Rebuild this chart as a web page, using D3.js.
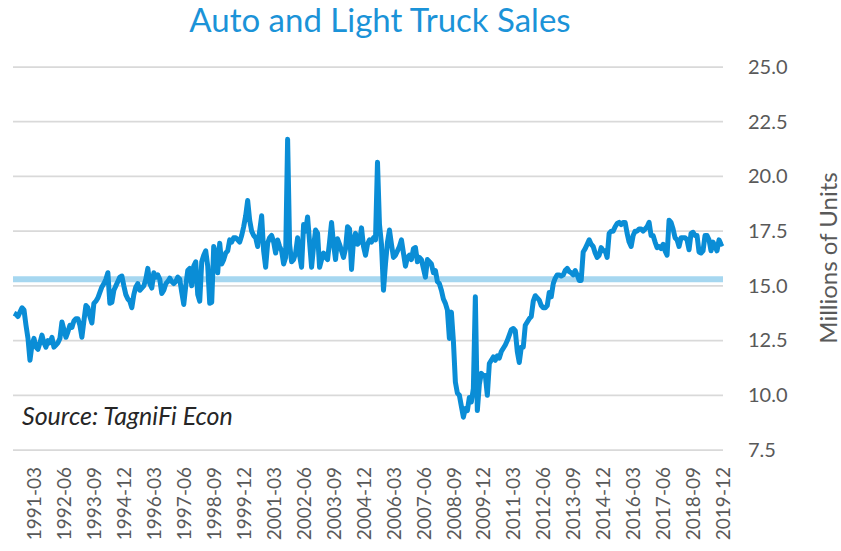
<!DOCTYPE html>
<html>
<head>
<meta charset="utf-8">
<script src="https://cdn.jsdelivr.net/npm/d3@7"></script>
<style>
	body { margin: 0; background: #fff; }
	text { font-family: Lato, "Open Sans", sans-serif; }
</style>
</head>
<body>
<div id="sales-chart"></div>
<script>

// Monthly sales, millions of units (SAAR), May 1990 - Dec 2019
var startMonth = "1990-05";
var endMonth = "2019-12";
var sales = [
	13.75, 13.7, 13.6, 13.8, 14.0, 13.9, 13.2, 12.6,
	11.6, 12.3, 12.6, 12.2, 12.1, 12.4, 12.75, 12.4, 12.2, 12.5, 12.4, 12.65,
	12.2, 12.3, 12.4, 12.6, 13.35, 13.0, 12.65, 12.9, 13.2, 13.1, 13.4, 13.5,
	13.5, 13.2, 12.65, 13.4, 14.1, 14.0, 13.6, 13.3, 14.2, 14.3, 14.45, 14.7,
	14.95, 15.1, 15.3, 15.6, 14.2, 14.25, 14.8, 15.0, 15.2, 15.4, 15.45, 15.0,
	14.6, 14.4, 14.3, 14.0, 14.6, 14.95, 15.1, 14.8, 14.9, 15.0, 15.3, 15.8,
	15.1, 14.9, 15.6, 15.4, 15.5, 15.3, 14.65, 14.8, 15.1, 15.2, 15.35, 15.2,
	15.1, 15.2, 15.4, 15.3, 14.7, 14.15, 15.0, 15.7, 15.8, 15.0, 15.9, 16.1,
	14.6, 14.3, 16.1, 16.4, 16.6, 15.9, 14.2, 14.25, 16.8, 16.5, 15.6, 16.95,
	16.0, 16.2, 16.5, 16.6, 17.1, 17.0, 17.2, 17.2, 17.1, 17.0, 17.3, 17.7,
	18.2, 18.9, 18.0, 17.5, 17.3, 17.2, 16.8, 17.5, 18.2, 16.6, 15.85, 16.95,
	17.2, 17.3, 17.0, 16.5, 17.1, 16.8, 16.6, 16.0, 16.3, 21.7, 16.9, 16.1,
	16.2, 16.5, 17.2, 16.4, 15.85, 17.8, 17.5, 18.15, 17.0, 15.85, 16.8, 17.55,
	17.4, 15.85, 16.2, 16.5, 16.3, 16.2, 17.0, 17.9, 16.9, 16.2, 17.15, 16.9,
	16.6, 16.3, 16.7, 17.7, 17.6, 15.75, 17.1, 17.4, 16.9, 17.0, 17.65, 16.8,
	16.4, 16.9, 17.1, 17.0, 17.2, 17.1, 20.65, 17.8, 16.9, 14.8, 16.0, 17.0,
	17.55, 16.9, 16.3, 16.4, 16.6, 16.8, 17.1, 16.5, 15.9, 16.3, 16.4, 16.2,
	16.7, 16.75, 16.1, 16.3, 16.2, 15.8, 15.4, 16.2, 16.1, 16.0, 15.6, 15.7,
	15.2, 15.1, 14.8, 14.4, 14.2, 13.9, 12.6, 13.8, 12.5, 10.6, 10.1, 10.0,
	9.5, 9.0, 9.4, 9.3, 9.9, 9.7, 10.3, 14.5, 9.3, 10.5, 11.0, 10.9,
	10.9, 10.0, 11.45, 11.6, 11.75, 11.6, 11.8, 11.7, 12.0, 12.15, 12.3, 12.5,
	12.75, 13.0, 13.05, 12.95, 12.0, 11.5, 12.2, 12.2, 13.2, 13.35, 13.5, 13.6,
	14.3, 14.55, 14.45, 14.35, 14.1, 14.0, 14.0, 14.1, 14.7, 14.5, 15.1, 15.35,
	15.5, 15.5, 15.45, 15.5, 15.7, 15.8, 15.65, 15.6, 15.5, 15.7, 15.5, 15.25,
	15.25, 16.55, 16.7, 16.9, 17.1, 16.9, 16.8, 16.5, 16.3, 16.4, 16.75, 16.6,
	16.6, 16.3, 17.4, 17.5, 17.5, 17.7, 17.85, 17.9, 17.8, 17.9, 17.9, 17.4,
	17.0, 16.8, 17.3, 17.5, 17.5, 17.6, 17.6, 17.5, 17.6, 17.7, 17.9, 17.3,
	17.3, 17.0, 16.75, 16.8, 16.7, 16.9, 16.6, 16.4, 18.0, 17.9, 17.6, 17.2,
	17.1, 16.8, 17.2, 17.2, 17.2, 17.1, 16.65, 17.4, 17.45, 17.3, 17.3, 16.55,
	16.5, 16.6, 17.3, 17.3, 17.1, 16.6, 17.0, 16.8, 16.6, 17.1, 16.9, 16.95
];

// Long-run average band
var avgSales = 15.3;

// Axis ticks
var yTicks = [7.5, 10.0, 12.5, 15.0, 17.5, 20.0, 22.5, 25.0];
var xTickLabels = ["1991-03","1992-06","1993-09","1994-12","1996-03","1997-06","1998-09","1999-12",
	"2001-03","2002-06","2003-09","2004-12","2006-03","2007-06","2008-09","2009-12",
	"2011-03","2012-06","2013-09","2014-12","2016-03","2017-06","2018-09","2019-12"];

var parseMonth = d3.timeParse("%Y-%m"),
	fmtMonth = d3.timeFormat("%Y-%m");

var months = d3.timeMonth.range(parseMonth(startMonth), d3.timeMonth.offset(parseMonth(endMonth), 1))
	.map(fmtMonth);

var data = months.map(function(m, i) { return {month: m, value: sales[i]}; });

var width = 841, height = 551,
	margin = {top: 67, right: 118, bottom: 101, left: 14};

var xScale = d3.scalePoint()
	.domain(months)
	.range([margin.left, width - margin.right]);

var yScale = d3.scaleLinear()
	.domain([7.5, 25])
	.range([height - margin.bottom, margin.top]);

var svg = d3.select("#sales-chart").append("svg")
	.attr("width", width)
	.attr("height", height);

// Gridlines
svg.append("g")
	.attr("class", "grid")
	.selectAll("line")
	.data(yTicks)
	.enter().append("line")
	.attr("x1", 13)
	.attr("x2", width - margin.right)
	.attr("y1", function(d) { return yScale(d); })
	.attr("y2", function(d) { return yScale(d); })
	.attr("stroke", "#d9d9d9")
	.attr("stroke-width", 1.75);

// Right axis labels
var yAxis = d3.axisRight(yScale)
	.tickValues(yTicks)
	.tickSize(0)
	.tickPadding(0)
	.tickFormat(d3.format(".1f"));

svg.append("g")
	.attr("transform", "translate(748,0)")
	.call(yAxis)
	.call(function(g) { g.select(".domain").remove(); })
	.selectAll("text")
	.attr("fill", "#595959")
	.style("font-size", "20px");

// Bottom axis labels (rotated)
var xAxis = d3.axisBottom(xScale)
	.tickValues(xTickLabels)
	.tickSize(0);

svg.append("g")
	.attr("transform", "translate(0," + (height - margin.bottom) + ")")
	.call(xAxis)
	.call(function(g) { g.select(".domain").remove(); })
	.selectAll("text")
	.attr("fill", "#595959")
	.style("font-size", "19px")
	.style("text-anchor", "end")
	.attr("transform", "rotate(-90)")
	.attr("x", -17)
	.attr("y", 0)
	.attr("dy", "0.35em");

// Average band
svg.append("line")
	.attr("x1", 13)
	.attr("x2", width - margin.right)
	.attr("y1", yScale(avgSales))
	.attr("y2", yScale(avgSales))
	.attr("stroke", "#a6d7f0")
	.attr("stroke-width", 6);

// Sales line
var line = d3.line()
	.x(function(d) { return xScale(d.month); })
	.y(function(d) { return yScale(d.value); });

svg.append("path")
	.datum(data)
	.attr("fill", "none")
	.attr("stroke", "#0a8dd6")
	.attr("stroke-width", 5)
	.attr("stroke-linejoin", "round")
	.attr("d", line);

// Title
svg.append("text")
	.attr("x", 380)
	.attr("y", 32)
	.style("text-anchor", "middle")
	.style("font-size", "33px")
	.attr("fill", "#1b93d8")
	.text("Auto and Light Truck Sales");

// Y-axis description
svg.append("text")
	.attr("transform", "translate(837," + 258 + ") rotate(-90)")
	.style("text-anchor", "middle")
	.style("font-size", "24px")
	.attr("fill", "#595959")
	.text("Millions of Units");

// Source note
svg.append("text")
	.attr("x", 22)
	.attr("y", 425)
	.style("font-size", "25px")
	.style("font-style", "italic")
	.attr("fill", "#262626")
	.text("Source: TagniFi Econ");

</script>
</body>
</html>
